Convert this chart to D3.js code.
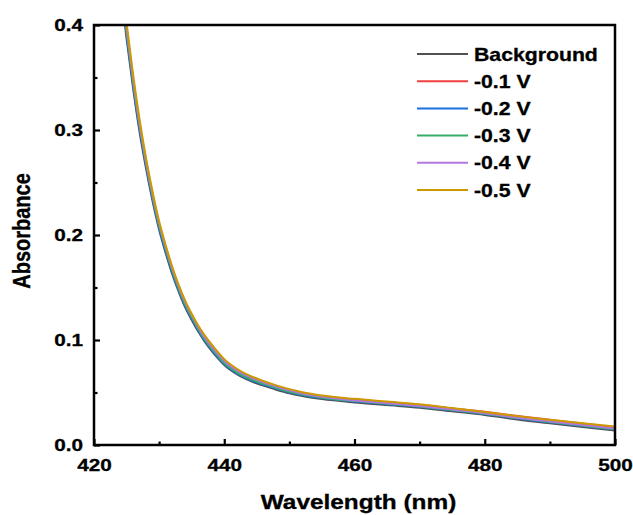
<!DOCTYPE html>
<html>
<head>
<meta charset="utf-8">
<script src="https://cdn.jsdelivr.net/npm/d3@7/dist/d3.min.js"></script>
<style>
  html, body { margin: 0; padding: 0; background: #fff; }
  svg { display: block; }
  text { font-family: Arial, "Liberation Sans", sans-serif; font-weight: bold; fill: #000; stroke: #000; stroke-width: 0.3px; }
</style>
</head>
<body>
<svg id="chart" width="633" height="515"></svg>
<script>
// ---- data ----
const wavelengths = [424,425,426,427,428,429,430,431,432,433,434,435,436,437,438,439,440,442,444,446,448,450,452,455,460,465,470,475,480,485,490,495,500];
const background = [0.440,0.387,0.340,0.298,0.263,0.232,0.205,0.183,0.163,0.146,0.131,0.119,0.108,0.0985,0.0902,0.0828,0.0762,0.0672,0.0611,0.0565,0.0527,0.0493,0.0466,0.0437,0.0405,0.0380,0.0355,0.0321,0.0286,0.0243,0.0206,0.0171,0.0137];
const v01 = [0.448,0.395,0.347,0.305,0.269,0.2375,0.210,0.188,0.1675,0.150,0.135,0.1228,0.1115,0.1015,0.0932,0.0858,0.0790,0.0699,0.0638,0.0592,0.0553,0.0518,0.0490,0.0461,0.0428,0.0403,0.0380,0.0348,0.0316,0.0277,0.0240,0.0204,0.0170];
const v02 = [0.444,0.391,0.343,0.301,0.266,0.2345,0.207,0.185,0.165,0.1475,0.1325,0.1205,0.1092,0.0995,0.0912,0.0838,0.0772,0.0682,0.0621,0.0575,0.0537,0.0503,0.0476,0.0447,0.0414,0.0389,0.0364,0.0330,0.0295,0.0253,0.0216,0.0181,0.0147];
const v03 = [0.447,0.394,0.346,0.304,0.268,0.2365,0.209,0.187,0.1665,0.149,0.134,0.1218,0.1105,0.1005,0.0922,0.0848,0.0780,0.0689,0.0628,0.0582,0.0543,0.0508,0.0480,0.0451,0.0418,0.0393,0.0367,0.0333,0.0298,0.0256,0.0219,0.0184,0.0150];
const v04 = [0.450,0.397,0.349,0.306,0.270,0.2385,0.211,0.189,0.1685,0.151,0.136,0.1238,0.1125,0.1025,0.0942,0.0868,0.0800,0.0709,0.0646,0.0598,0.0557,0.0520,0.0490,0.0459,0.0424,0.0398,0.0371,0.0337,0.0302,0.0260,0.0224,0.0190,0.0158];
const v05 = [0.456,0.402,0.353,0.310,0.273,0.241,0.213,0.1905,0.170,0.1525,0.1375,0.125,0.1138,0.1045,0.0962,0.0886,0.0818,0.0724,0.0659,0.0610,0.0568,0.0532,0.0503,0.0472,0.0440,0.0414,0.0388,0.0352,0.0315,0.0275,0.0240,0.0207,0.0175];

const seriesNames = ["Background","-0.1 V","-0.2 V","-0.3 V","-0.4 V","-0.5 V"];
const seriesValues = [background, v01, v02, v03, v04, v05];
const seriesColors = ["#515151","#F14040","#1A6FDF","#37AD6B","#B177DE","#CC9900"];

const xMajorTicks = [420,440,460,480,500];
const xMinorTicks = [430,450,470,490];
const yMajorTicks = [0.0,0.1,0.2,0.3,0.4];
const yMinorTicks = [0.05,0.15,0.25,0.35];

// ---- layout ----
const svg = d3.select("#chart");
const L = 94, R = 615, T = 25, B = 445;
const SX = 1.22; // horizontal stretch of glyphs in the reference

const x = d3.scaleLinear().domain([420, 500]).range([L, R]);
const y = d3.scaleLinear().domain([0, 0.4]).range([B, T]);

svg.append("defs").append("clipPath").attr("id", "clip")
  .append("rect").attr("x", L).attr("y", T).attr("width", R - L).attr("height", B - T);

// curves
const line = d3.line()
  .x(d => x(d[0])).y(d => y(d[1]))
  .curve(d3.curveMonotoneX);

const curves = svg.append("g").attr("clip-path", "url(#clip)");
seriesValues.forEach((vals, i) => {
  curves.append("path")
    .datum(wavelengths.map((w, j) => [w, vals[j]]))
    .attr("d", line)
    .attr("fill", "none")
    .attr("stroke", seriesColors[i])
    .attr("stroke-width", 2)
    .attr("stroke-linejoin", "round");
});

// axes
const fontTick = 17;
const xAxis = svg.append("g").attr("transform", `translate(0,${B})`)
  .call(d3.axisBottom(x).tickValues(xMajorTicks).tickSizeInner(-6).tickSizeOuter(0).tickPadding(14).tickFormat(d3.format("d")));
const xAxisMinor = svg.append("g").attr("transform", `translate(0,${B})`)
  .call(d3.axisBottom(x).tickValues(xMinorTicks).tickSizeInner(-3.5).tickSizeOuter(0).tickFormat(""));
const yAxis = svg.append("g").attr("transform", `translate(${L},0)`)
  .call(d3.axisLeft(y).tickValues(yMajorTicks).tickSizeInner(-6).tickSizeOuter(0).tickPadding(11).tickFormat(d3.format(".1f")));
const yAxisMinor = svg.append("g").attr("transform", `translate(${L},0)`)
  .call(d3.axisLeft(y).tickValues(yMinorTicks).tickSizeInner(-3.5).tickSizeOuter(0).tickFormat(""));

[xAxis, xAxisMinor, yAxis, yAxisMinor].forEach(g => {
  g.select(".domain").remove();
  g.selectAll(".tick line").attr("stroke", "#000").attr("stroke-width", 2.2);
  g.selectAll(".tick text").attr("font-size", fontTick).attr("font-family", null).attr("fill", "#000");
});
xAxis.selectAll(".tick text").attr("transform", `scale(${SX},1)`);
yAxis.selectAll(".tick text")
  .attr("x", -11 / SX)
  .attr("transform", `scale(${SX},1)`);

// frame
svg.append("rect")
  .attr("x", L).attr("y", T).attr("width", R - L).attr("height", B - T)
  .attr("fill", "none").attr("stroke", "#000").attr("stroke-width", 2.5);

// axis titles
svg.append("text")
  .attr("transform", `translate(${(L + R) / 2 + 4},509) scale(${SX},1)`)
  .attr("text-anchor", "middle")
  .attr("font-size", 20)
  .text("Wavelength (nm)");

svg.append("text")
  .attr("transform", `translate(30,231) scale(${SX},1) rotate(-90)`)
  .attr("text-anchor", "middle")
  .attr("font-size", 20)
  .text("Absorbance");

// legend
const legend = svg.append("g");
const legY0 = 54, legDy = 27.2;
seriesNames.forEach((name, i) => {
  const ly = legY0 + i * legDy;
  legend.append("line")
    .attr("x1", 417).attr("x2", 468).attr("y1", ly).attr("y2", ly)
    .attr("stroke", seriesColors[i]).attr("stroke-width", 2);
  legend.append("text")
    .attr("transform", `translate(474,${ly + 6.5}) scale(${SX - 0.04},1)`)
    .attr("font-size", 18)
    .text(name);
});
</script>
</body>
</html>
